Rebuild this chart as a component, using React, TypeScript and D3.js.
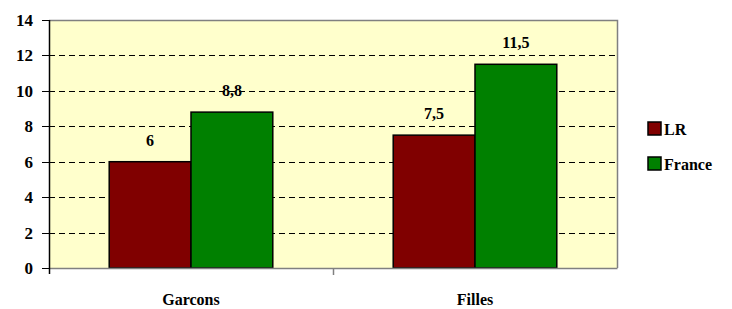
import React, { useEffect, useRef } from "react";
import * as d3 from "d3";

const categories = ["Garcons", "Filles"];
const seriesNames = ["LR", "France"];
const lrValues = [6, 7.5];
const franceValues = [8.8, 11.5];
const valueLabels = [
  ["6", "7,5"],
  ["8,8", "11,5"],
];
const yTicks = [0, 2, 4, 6, 8, 10, 12, 14];
const colors = ["#800000", "#008000"];

function App() {
  const svgRef = useRef<SVGSVGElement | null>(null);

  useEffect(() => {
    drawChart();
  }, []);

  const drawChart = () => {
    const svg = d3.select(svgRef.current);
    svg.selectAll("*").remove();

    const left = 49;
    const right = 617;
    const top = 20;
    const bottom = 268;
    const font = '"Liberation Serif", "DejaVu Serif", "Times New Roman", Times, serif';

    const x = d3.scaleBand().domain(categories).range([left, right]);
    const y = d3.scaleLinear().domain([0, 14]).range([bottom, top]);
    const barW = x.bandwidth() * 0.288;

    svg
      .append("rect")
      .attr("x", left)
      .attr("y", top)
      .attr("width", right - left)
      .attr("height", bottom - top)
      .attr("fill", "#FFFFCC");

    // grid
    svg
      .append("g")
      .selectAll("line")
      .data(yTicks.filter((t) => t > 0 && t < 14))
      .enter()
      .append("line")
      .attr("x1", left)
      .attr("x2", right)
      .attr("y1", (d) => Math.round(y(d)) + 0.5)
      .attr("y2", (d) => Math.round(y(d)) + 0.5)
      .attr("stroke", "#000")
      .attr("stroke-width", 1)
      .attr("stroke-dasharray", "6,4");

    // frame top/right
    svg
      .append("path")
      .attr("d", `M${left},${top + 0.5}H${right + 0.5}V${bottom}`)
      .attr("fill", "none")
      .attr("stroke", "#808080")
      .attr("stroke-width", 1.5);

    const data = categories.flatMap((c, i) => [
      { cat: c, s: 0, v: lrValues[i], label: valueLabels[0][i] },
      { cat: c, s: 1, v: franceValues[i], label: valueLabels[1][i] },
    ]);

    const barX = (d: { cat: string; s: number }) =>
      (x(d.cat) as number) + x.bandwidth() / 2 - barW + d.s * barW;

    svg
      .append("g")
      .selectAll("rect")
      .data(data)
      .enter()
      .append("rect")
      .attr("x", barX)
      .attr("y", (d) => y(d.v))
      .attr("width", barW)
      .attr("height", (d) => bottom - y(d.v))
      .attr("fill", (d) => colors[d.s])
      .attr("stroke", "#000")
      .attr("stroke-width", 1.5);

    svg
      .append("g")
      .selectAll("text")
      .data(data)
      .enter()
      .append("text")
      .attr("x", (d) => barX(d) + barW / 2)
      .attr("y", (d) => y(d.v) - 16)
      .attr("text-anchor", "middle")
      .style("font-family", font)
      .style("font-weight", "bold")
      .style("font-size", "16px")
      .text((d) => d.label);

    // bottom axis
    svg
      .append("line")
      .attr("x1", left)
      .attr("x2", right + 0.5)
      .attr("y1", bottom + 0.5)
      .attr("y2", bottom + 0.5)
      .attr("stroke", "#808080")
      .attr("stroke-width", 1.5);
    svg
      .append("g")
      .selectAll("line")
      .data(categories.slice(1))
      .enter()
      .append("line")
      .attr("x1", (d) => Math.round(x(d) as number) + 0.5)
      .attr("x2", (d) => Math.round(x(d) as number) + 0.5)
      .attr("y1", bottom)
      .attr("y2", bottom + 7)
      .attr("stroke", "#808080")
      .attr("stroke-width", 1.5);

    svg
      .append("g")
      .selectAll("text")
      .data(categories)
      .enter()
      .append("text")
      .attr("x", (d) => (x(d) as number) + x.bandwidth() / 2)
      .attr("y", 305)
      .attr("text-anchor", "middle")
      .style("font-family", font)
      .style("font-weight", "bold")
      .style("font-size", "16px")
      .text((d) => d);

    // left axis
    svg
      .append("line")
      .attr("x1", left + 0.5)
      .attr("x2", left + 0.5)
      .attr("y1", top)
      .attr("y2", bottom + 6)
      .attr("stroke", "#000")
      .attr("stroke-width", 1.5);
    const yg = svg.append("g");
    yg.selectAll("line")
      .data(yTicks)
      .enter()
      .append("line")
      .attr("x1", left - 7)
      .attr("x2", left)
      .attr("y1", (d) => Math.round(y(d)) + 0.5)
      .attr("y2", (d) => Math.round(y(d)) + 0.5)
      .attr("stroke", "#000")
      .attr("stroke-width", 1);
    yg.selectAll("text")
      .data(yTicks)
      .enter()
      .append("text")
      .attr("x", 33)
      .attr("y", (d) => y(d) + 6)
      .attr("text-anchor", "end")
      .style("font-family", font)
      .style("font-weight", "bold")
      .style("font-size", "17px")
      .text((d) => d);

    // legend
    const lg = svg.append("g");
    seriesNames.forEach((name, i) => {
      const ly = 122 + i * 35;
      lg.append("rect")
        .attr("x", 648)
        .attr("y", ly)
        .attr("width", 13)
        .attr("height", 13)
        .attr("fill", colors[i])
        .attr("stroke", "#000")
        .attr("stroke-width", 1.5);
      lg.append("text")
        .attr("x", 664)
        .attr("y", ly + 13)
        .style("font-family", font)
        .style("font-weight", "bold")
        .style("font-size", "16px")
        .text(name);
    });
  };

  return (
    <svg
      ref={svgRef}
      width={732}
      height={309}
      style={{ position: "absolute", left: 0, top: 0, background: "#fff" }}
    />
  );
}

export default App;
